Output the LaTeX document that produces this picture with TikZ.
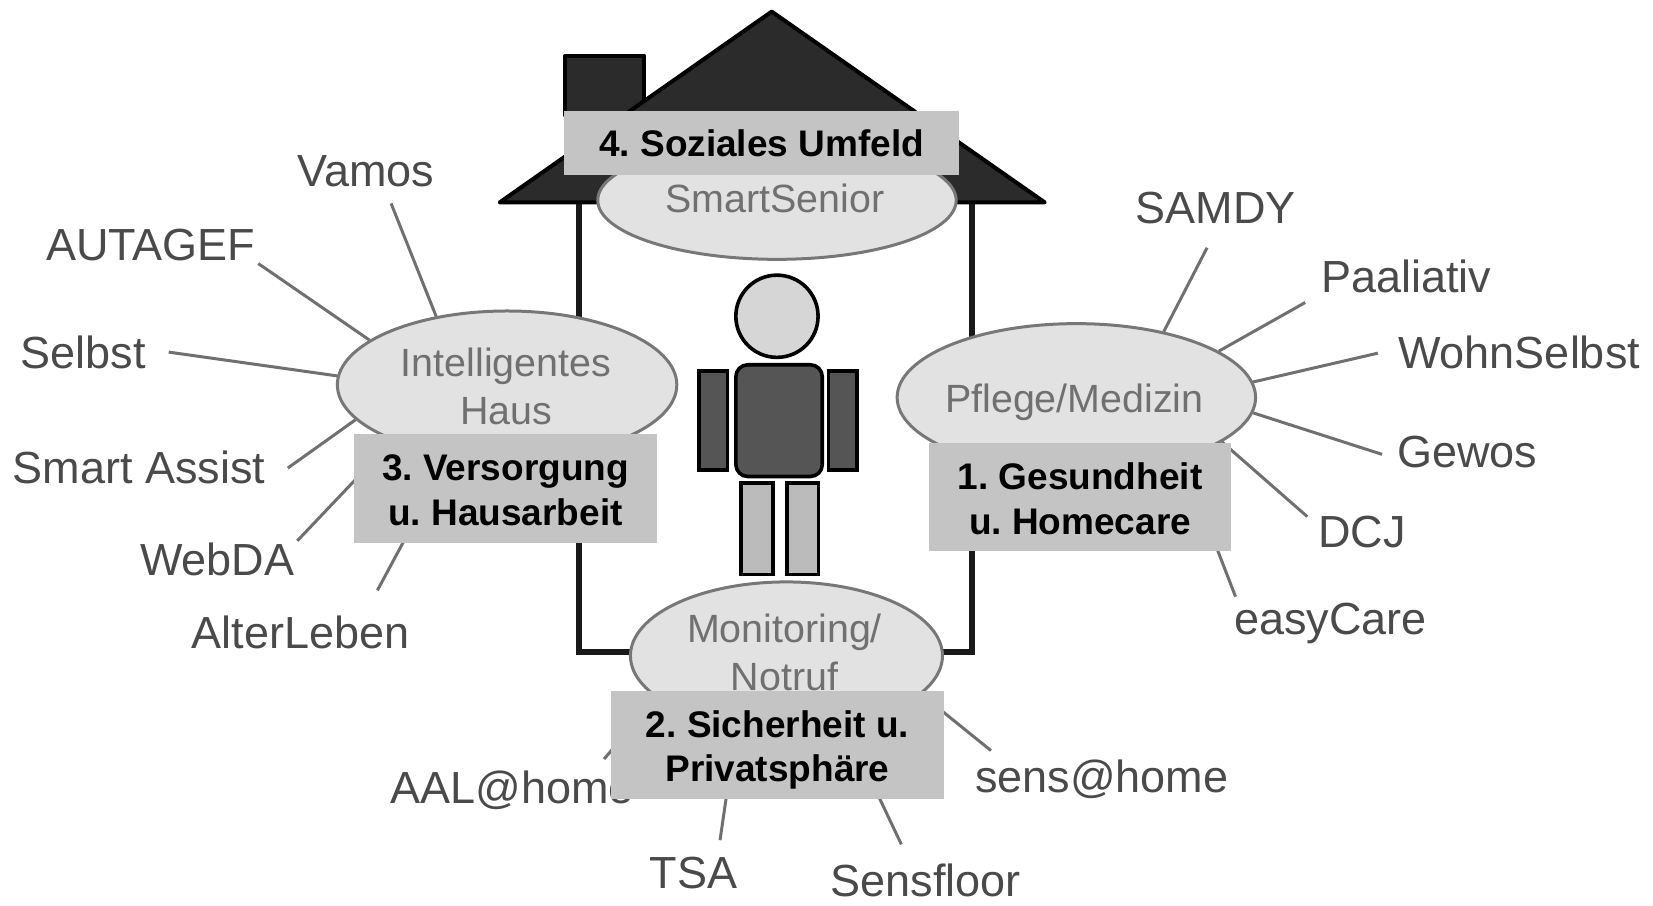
\documentclass[tikz,border=0pt]{standalone}
\usepackage{fontspec}
\setmainfont{Liberation Sans}
\frenchspacing
\usetikzlibrary{shapes.geometric}
\definecolor{roofc}{HTML}{2B2B2B}
\definecolor{torsoc}{HTML}{555555}
\definecolor{headc}{HTML}{D6D6D6}
\definecolor{legc}{HTML}{BBBBBB}
\definecolor{ellc}{HTML}{E2E2E2}
\definecolor{ellline}{HTML}{777777}
\definecolor{boxc}{HTML}{C4C4C4}
\definecolor{txtouter}{HTML}{4A4A4A}
\definecolor{txtinner}{HTML}{707070}
\definecolor{linec}{HTML}{707070}
\newcommand{\unitpx}{0.5271pt}
\tikzset{
  bubble/.style={ellipse,draw=ellline,line width=1.5pt,fill=ellc,inner sep=0pt},
  bubbletxt/.style={inner sep=0pt,text=txtinner,align=center,font=\fontsize{19.7}{24}\selectfont},
  catbox/.style={rectangle,fill=boxc,inner sep=0pt},
  cattxt/.style={inner sep=0pt,align=center,text=black,font=\fontsize{18.5}{22.4}\selectfont\bfseries},
  project/.style={inner sep=0pt,text=txtouter,font=\fontsize{22.5}{26}\selectfont},
  spoke/.style={draw=linec,line width=1.5pt},
  housedark/.style={draw=black,line width=2pt,fill=roofc,line join=round},
  wall/.style={draw=black!90,line width=3pt,line join=miter},
  limb/.style={rectangle,draw=black,line width=1.8pt,inner sep=0pt}
}
\begin{document}
\begin{tikzpicture}[x=\unitpx,y=-\unitpx]
\useasboundingbox (0,0) rectangle (1568,858.5);
% house
\coordinate (apex) at (732,11);
\coordinate (eaveL) at (474,192);
\coordinate (eaveR) at (991,192);
\draw[wall] (549,192) -- (549,618) -- (600,618);
\draw[wall] (922,192) -- (922,618) -- (890,618);
\draw[housedark] (536,110) -- (536,53) -- (611,53) -- (611,110) -- cycle;
\draw[housedark] (eaveL) -- (apex) -- (eaveR) -- cycle;
% person
\node[limb,fill=headc,circle,minimum size=39*\unitpx*2] (head) at (737,300) {};
\node[limb,fill=torsoc,rounded corners=6pt,minimum width=82*\unitpx,minimum height=106*\unitpx] (torso) at (739,399) {};
\node[limb,fill=torsoc,minimum width=27*\unitpx,minimum height=94*\unitpx] (armL) at (676.5,399) {};
\node[limb,fill=torsoc,minimum width=27*\unitpx,minimum height=94*\unitpx] (armR) at (799.5,399) {};
\node[limb,fill=legc,minimum width=30*\unitpx,minimum height=87*\unitpx] (legL) at (718,501.5) {};
\node[limb,fill=legc,minimum width=30*\unitpx,minimum height=87*\unitpx] (legR) at (761.5,501.5) {};
% bubbles
\node[bubble,minimum width=340*\unitpx,minimum height=112*\unitpx,
  label={[bubbletxt,xshift=-1pt,yshift=1pt]center:{SmartSenior}}] (smart) at (737,190) {};
\node[bubble,minimum width=322*\unitpx,minimum height=140*\unitpx,
  label={[bubbletxt,xshift=-0.5pt,yshift=-1pt]center:{Intelligentes\\Haus}}] (haus) at (481,365) {};
\node[bubble,minimum width=340*\unitpx,minimum height=140*\unitpx,
  label={[bubbletxt,xshift=-1pt,yshift=-2.5pt]center:{Pflege/Medizin}}] (pflege) at (1021,377) {};
\node[bubble,minimum width=296*\unitpx,minimum height=140*\unitpx,
  label={[bubbletxt,xshift=-1pt,yshift=1.5pt]center:{Monitoring/\\Notruf}}] (moni) at (746,622) {};
% project names
\node[project] (vamos) at (347,162) {Vamos};
\node[project] (autagef) at (143,232) {AUTAGEF};
\node[project] (selbst) at (79,334) {Selbst};
\node[project] (assist) at (132,443) {Smart Assist};
\node[project] (webda) at (206,531) {WebDA};
\node[project] (alter) at (285,600) {AlterLeben};
\node[project] (samdy) at (1153,197) {SAMDY};
\node[project] (paal) at (1334,262) {Paaliativ};
\node[project] (wohn) at (1441,334) {WohnSelbst};
\node[project] (gewos) at (1392,429) {Gewos};
\node[project] (dcj) at (1292,505) {DCJ};
\node[project] (easy) at (1262,591) {easyCare};
\node[project] (sens) at (1045,739) {sens@home};
\node[project] (floor) at (878,835) {Sensfloor};
\node[project] (tsa) at (658,828) {TSA};
\node[project] (aal) at (486,750) {AAL@home};
% free ends of spokes
\coordinate (cvamos) at (371,193);
\coordinate (cautagef) at (245,250);
\coordinate (cselbst) at (160,334);
\coordinate (cassist) at (273,444);
\coordinate (cwebda) at (282,513);
\coordinate (calter) at (358,560);
\coordinate (csamdy) at (1145,235);
\coordinate (cpaal) at (1238,287);
\coordinate (cwohn) at (1307,335);
\coordinate (cgewos) at (1311,431);
\coordinate (cdcj) at (1240,490);
\coordinate (ceasy) at (1172,566);
\coordinate (csens) at (940,712);
\coordinate (cfloor) at (855,801);
\coordinate (ctsa) at (683,797);
\coordinate (caal) at (573,720);
% spokes
\draw[spoke] (cvamos) -- (haus.136);
\draw[spoke] (cautagef) -- (haus.162);
\draw[spoke] (cselbst) -- (haus.177);
\draw[spoke] (cassist) -- (haus.193);
\draw[spoke] (cwebda) -- (haus.206.6);
\draw[spoke] (calter) -- (haus.231);
\draw[spoke] (csamdy) -- (pflege.37.5);
\draw[spoke] (cpaal) -- (pflege.18);
\draw[spoke] (cwohn) -- (pflege.5.7);
\draw[spoke] (cgewos) -- (pflege.-5.7);
\draw[spoke] (cdcj) -- (pflege.-17);
\draw[spoke] (ceasy) -- (pflege.-30.2);
\draw[spoke] (csens) -- (moni.-16.4);
\draw[spoke] (cfloor) -- (moni.-50.7);
\draw[spoke] (ctsa) -- (moni.235.5);
\draw[spoke] (caal) -- (moni.198);
% category boxes
\node[catbox,minimum width=375*\unitpx,minimum height=61*\unitpx,
  label={[cattxt]center:{4. Soziales Umfeld}}] (b4) at (722.5,135.5) {};
\node[catbox,minimum width=287*\unitpx,minimum height=103*\unitpx,
  label={[cattxt,yshift=-0.8pt]center:{3. Versorgung\\u. Hausarbeit}}] (b3) at (479.5,463.5) {};
\node[catbox,minimum width=287*\unitpx,minimum height=103*\unitpx,
  label={[cattxt,yshift=-0.8pt]center:{1. Gesundheit\\u. Homecare}}] (b1) at (1024.5,471.5) {};
\node[catbox,minimum width=315*\unitpx,minimum height=103*\unitpx,
  label={[cattxt,yshift=-2.6pt]center:{2. Sicherheit u.\\Privatsphäre}}] (b2) at (737.5,706.5) {};
\end{tikzpicture}
\end{document}
